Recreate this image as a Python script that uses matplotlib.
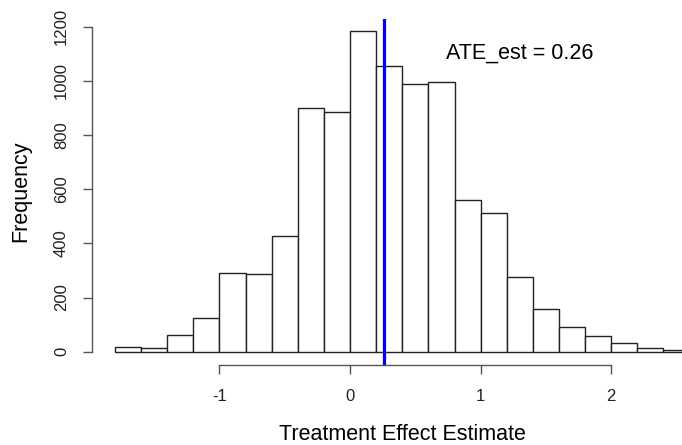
import matplotlib
matplotlib.use('Agg')
import matplotlib.pyplot as plt

plt.rcParams['font.family'] = ['Liberation Sans', 'DejaVu Sans']

# histogram bins (left edges, width 0.2) and counts
bin_left = [-1.8, -1.6, -1.4, -1.2, -1.0, -0.8, -0.6, -0.4, -0.2, 0.0, 0.2,
            0.4, 0.6, 0.8, 1.0, 1.2, 1.4, 1.6, 1.8, 2.0, 2.2, 2.4]
counts = [16, 12, 62, 125, 290, 287, 426, 899, 884, 1182, 1055,
          987, 997, 559, 511, 276, 156, 90, 58, 31, 12, 8]
bin_width = 0.2
ate_est = 0.26

x_ticks = [-1, 0, 1, 2]
y_ticks = [0, 200, 400, 600, 800, 1000, 1200]

fig = plt.figure(figsize=(6.82, 4.45), dpi=100)
# plot region like R's default, wider than the (cropped) image on the right
ax = fig.add_axes([92 / 682, (445 - 364.5) / 445, 620.6 / 682, 345.5 / 445])

ax.bar(bin_left, counts, width=bin_width, align='edge',
       facecolor='white', edgecolor='#222222', linewidth=1.0)
ax.axvline(ate_est, color='#0000EE', linewidth=2.3)
ax.text(1.3, 1100, 'ATE_est = 0.26', ha='center', va='center', fontsize=15.5)

ax.set_xlim(-1.976, 2.776)
ax.set_ylim(-47.3, 1228)

for s in ['top', 'right']:
    ax.spines[s].set_visible(False)
ax.spines['left'].set_bounds(0, 1200)
ax.spines['bottom'].set_bounds(-1, 2)
for s in ['left', 'bottom']:
    ax.spines[s].set_color('#555555')
    ax.spines[s].set_linewidth(1.0)

ax.set_xticks(x_ticks)
ax.set_xticklabels(['-1', '0', '1', '2'])
ax.set_yticks(y_ticks)
ax.tick_params(axis='both', direction='out', length=6.5, width=1.0,
               color='#555555', labelsize=12, labelcolor='#222222', pad=11)
ax.tick_params(axis='y', labelrotation=90, pad=10)
for lbl in ax.get_yticklabels():
    lbl.set_va('center')

ax.set_xlabel('Treatment Effect Estimate', fontsize=15.5)
ax.set_ylabel('Frequency', fontsize=15.5)
ax.xaxis.set_label_coords(0.4995, -0.172)
ax.yaxis.set_label_coords(-0.098, 0.5)

fig.savefig('out.png', dpi=100)
